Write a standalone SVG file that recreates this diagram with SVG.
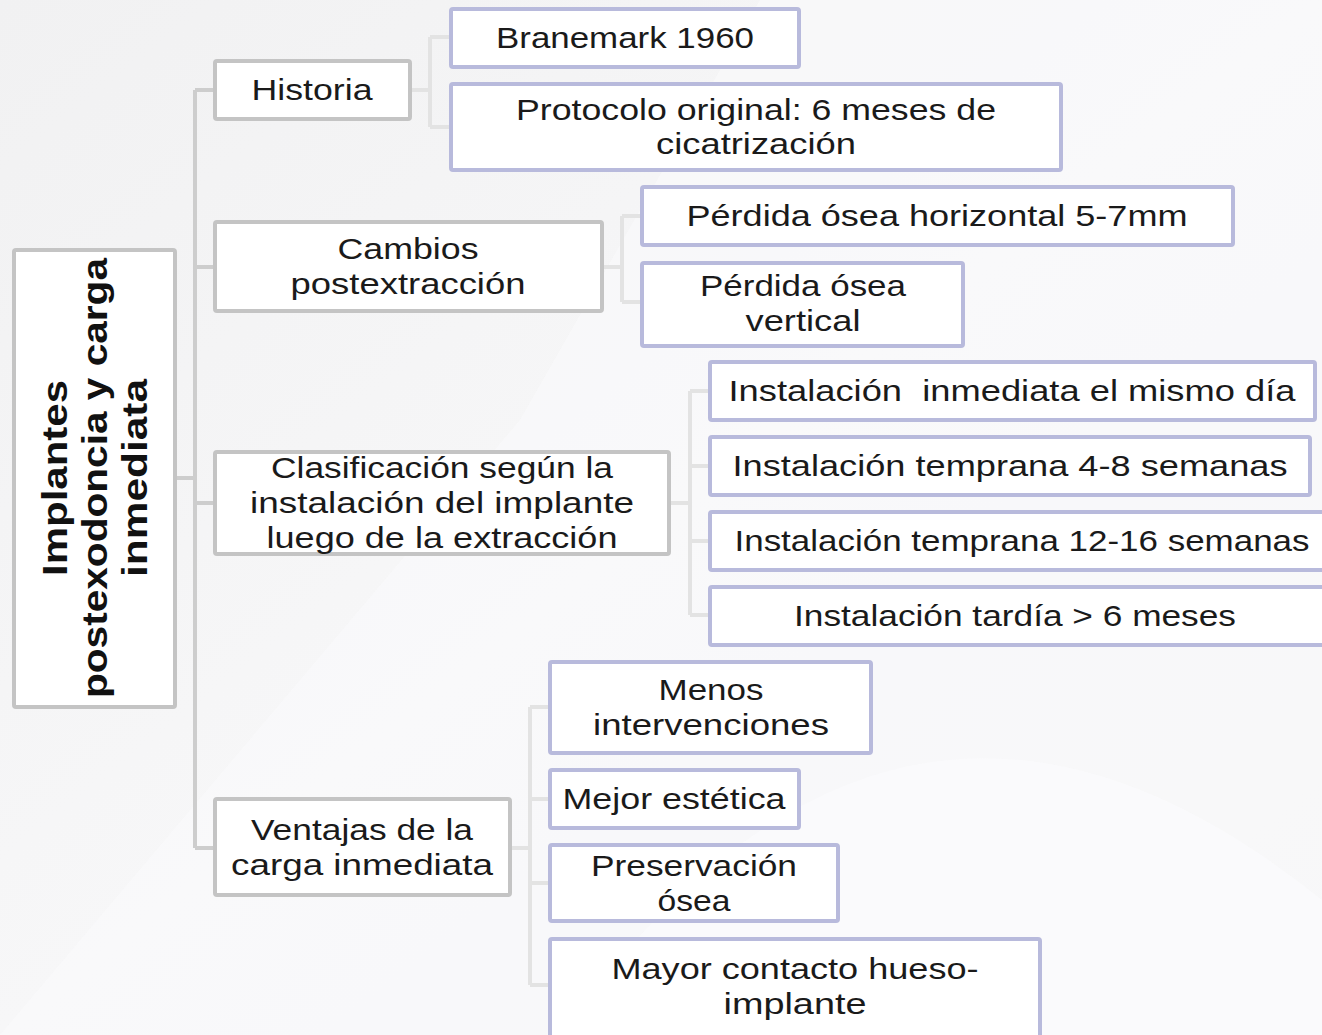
<svg xmlns="http://www.w3.org/2000/svg" width="1322" height="1035" viewBox="0 0 1322 1035">
<defs>
<linearGradient id="bg" x1="0" y1="0" x2="1" y2="1">
<stop offset="0" stop-color="#f1f1f2"/>
<stop offset="0.5" stop-color="#f7f7f8"/>
<stop offset="1" stop-color="#f3f3f5"/>
</linearGradient>
<style>
.t{font-family:"Liberation Sans",Arial,sans-serif;font-size:30px;fill:#1a1a1a;text-anchor:middle}
.r{font-family:"Liberation Sans",Arial,sans-serif;font-size:35px;font-weight:700;fill:#111;text-anchor:middle}
.g{fill:#fff;stroke:#c4c4c4;stroke-width:4}
.p{fill:#fff;stroke:#b8badc;stroke-width:4}
.c1{fill:none;stroke:#cdcdcd;stroke-width:4}
.c2{fill:none;stroke:#e3e3e3;stroke-width:4}
</style>
</defs>
<rect width="1322" height="1035" fill="url(#bg)"/>
<path d="M0 1035 L520 420 L760 0 L1322 0 L1322 1035 Z" fill="#fafafb" opacity="0.6"/>
<path d="M560 1035 Q900 560 1322 900 L1322 1035 Z" fill="#fcfcfd" opacity="0.6"/>

<g id="connectors">
<path class="c1" d="M176 478 H195 M195 90 V848 M195 90 H214 M195 267 H214 M195 503 H214 M195 848 H214"/>
<path class="c2" d="M411 90 H430 M430 37 V127 M430 37 H450 M430 127 H450"/>
<path class="c2" d="M603 267 H622 M622 216 V302 M622 216 H641 M622 302 H641"/>
<path class="c2" d="M670 503 H690 M690 391 V615 M690 391 H709 M690 466 H709 M690 541 H709 M690 615 H709"/>
<path class="c2" d="M511 848 H530 M530 707 V985 M530 707 H549 M530 799 H549 M530 883 H549 M530 985 H549"/>
</g>

<g id="root">
<rect class="g" x="14" y="250" width="161" height="457" rx="2"/>
<g transform="translate(95,478) rotate(-90)">
<text class="r" x="0" y="-28" textLength="196" lengthAdjust="spacingAndGlyphs">Implantes</text>
<text class="r" x="0" y="12" textLength="440" lengthAdjust="spacingAndGlyphs">postexodoncia y carga</text>
<text class="r" x="0" y="52" textLength="198" lengthAdjust="spacingAndGlyphs">inmediata</text>
</g>
</g>

<g id="historia">
<rect class="g" x="215" y="61" width="195" height="58" rx="2"/>
<text class="t" x="312" y="100" textLength="121" lengthAdjust="spacingAndGlyphs">Historia</text>
</g>
<g id="branemark">
<rect class="p" x="451" y="9" width="348" height="58" rx="2"/>
<text class="t" x="625" y="48" textLength="258" lengthAdjust="spacingAndGlyphs">Branemark 1960</text>
</g>
<g id="protocolo">
<rect class="p" x="451" y="84" width="610" height="86" rx="2"/>
<text class="t" x="756" y="120" textLength="480" lengthAdjust="spacingAndGlyphs">Protocolo original: 6 meses de</text>
<text class="t" x="756" y="154" textLength="200" lengthAdjust="spacingAndGlyphs">cicatrización</text>
</g>

<g id="cambios">
<rect class="g" x="215" y="222" width="387" height="89" rx="2"/>
<text class="t" x="408" y="259" textLength="141" lengthAdjust="spacingAndGlyphs">Cambios</text>
<text class="t" x="408" y="294" textLength="235" lengthAdjust="spacingAndGlyphs">postextracción</text>
</g>
<g id="perdida-horizontal">
<rect class="p" x="642" y="187" width="591" height="58" rx="2"/>
<text class="t" x="937" y="226" textLength="501" lengthAdjust="spacingAndGlyphs">Pérdida ósea horizontal 5-7mm</text>
</g>
<g id="perdida-vertical">
<rect class="p" x="642" y="263" width="321" height="83" rx="2"/>
<text class="t" x="803" y="296" textLength="206" lengthAdjust="spacingAndGlyphs">Pérdida ósea</text>
<text class="t" x="803" y="331" textLength="115" lengthAdjust="spacingAndGlyphs">vertical</text>
</g>

<g id="clasificacion">
<rect class="g" x="215" y="452" width="454" height="102" rx="2"/>
<text class="t" x="442" y="478" textLength="342" lengthAdjust="spacingAndGlyphs">Clasificación según la</text>
<text class="t" x="442" y="513" textLength="384" lengthAdjust="spacingAndGlyphs">instalación del implante</text>
<text class="t" x="442" y="548" textLength="351" lengthAdjust="spacingAndGlyphs">luego de la extracción</text>
</g>
<g id="inst-inmediata">
<rect class="p" x="710" y="362" width="605" height="58" rx="2"/>
<text class="t" x="1012" y="401" textLength="567" lengthAdjust="spacingAndGlyphs" xml:space="preserve">Instalación  inmediata el mismo día</text>
</g>
<g id="inst-4-8">
<rect class="p" x="710" y="437" width="600" height="58" rx="2"/>
<text class="t" x="1010" y="476" textLength="555" lengthAdjust="spacingAndGlyphs">Instalación temprana 4-8 semanas</text>
</g>
<g id="inst-12-16">
<rect class="p" x="710" y="512" width="620" height="58" rx="2"/>
<text class="t" x="1022" y="551" textLength="575" lengthAdjust="spacingAndGlyphs">Instalación temprana 12-16 semanas</text>
</g>
<g id="inst-tardia">
<rect class="p" x="710" y="587" width="620" height="58" rx="2"/>
<text class="t" x="1015" y="626" textLength="442" lengthAdjust="spacingAndGlyphs">Instalación tardía &gt; 6 meses</text>
</g>

<g id="ventajas">
<rect class="g" x="215" y="799" width="295" height="96" rx="2"/>
<text class="t" x="362" y="840" textLength="222" lengthAdjust="spacingAndGlyphs">Ventajas de la</text>
<text class="t" x="362" y="875" textLength="262" lengthAdjust="spacingAndGlyphs">carga inmediata</text>
</g>
<g id="menos">
<rect class="p" x="550" y="662" width="321" height="91" rx="2"/>
<text class="t" x="711" y="700" textLength="105" lengthAdjust="spacingAndGlyphs">Menos</text>
<text class="t" x="711" y="735" textLength="236" lengthAdjust="spacingAndGlyphs">intervenciones</text>
</g>
<g id="mejor">
<rect class="p" x="550" y="770" width="249" height="58" rx="2"/>
<text class="t" x="674" y="809" textLength="223" lengthAdjust="spacingAndGlyphs">Mejor estética</text>
</g>
<g id="preservacion">
<rect class="p" x="550" y="845" width="288" height="76" rx="2"/>
<text class="t" x="694" y="876" textLength="206" lengthAdjust="spacingAndGlyphs">Preservación</text>
<text class="t" x="694" y="911" textLength="73" lengthAdjust="spacingAndGlyphs">ósea</text>
</g>
<g id="mayor">
<rect class="p" x="550" y="939" width="490" height="110" rx="2"/>
<text class="t" x="795" y="979" textLength="367" lengthAdjust="spacingAndGlyphs">Mayor contacto hueso-</text>
<text class="t" x="795" y="1014" textLength="143" lengthAdjust="spacingAndGlyphs">implante</text>
</g>
</svg>
